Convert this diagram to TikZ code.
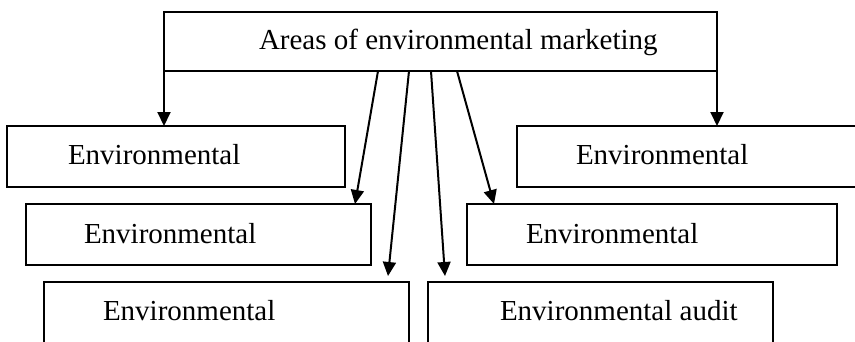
\documentclass[tikz,border=0pt]{standalone}
\usepackage{fontspec}
\setmainfont{Liberation Serif}
\usetikzlibrary{arrows.meta}
\begin{document}
\begin{tikzpicture}[x=1pt,y=-1pt,
  box/.style={draw, line width=2pt, rectangle, anchor=north west, inner sep=0pt, outer sep=0pt},
  txt/.style={anchor=base west, inner sep=0pt, outer sep=0pt, font=\fontsize{29}{34}\selectfont},
  arr/.style={line width=2pt, -{Triangle[length=14pt,width=13pt]}}]
\useasboundingbox (0,0) rectangle (855,341);
\clip (0,0) rectangle (855,341);
% boxes
\node[box, minimum width=553pt, minimum height=59pt] (top) at (164,12) {};
\node[box, minimum width=338pt, minimum height=61pt] (b1L) at (7,126) {};
\node[box, minimum width=345pt, minimum height=61pt] (b2L) at (26,204) {};
\node[box, minimum width=365pt, minimum height=98pt] (b3L) at (44,282) {};
\node[box, minimum width=363pt, minimum height=61pt] (b1R) at (517,126) {};
\node[box, minimum width=370pt, minimum height=61pt] (b2R) at (467,204) {};
\node[box, minimum width=345pt, minimum height=98pt] (b3R) at (428,282) {};
% texts
\node[txt] (ttop) at (259,49) {Areas of environmental marketing};
\node[txt] (t1L) at (68,164) {Environmental};
\node[txt] (t2L) at (84,243) {Environmental};
\node[txt] (t3L) at (103,320) {Environmental};
\node[txt] (t1R) at (576,164) {Environmental};
\node[txt] (t2R) at (526,243) {Environmental};
\node[txt] (t3R) at (500,320) {Environmental audit};
% connectors
\draw[arr] (top.south west) -- (top.south west |- b1L.north);
\draw[arr] (top.south east) -- (top.south east |- b1R.north);
\draw[arr] ([xshift=214pt]top.south west) -- ([xshift=-16pt]b2L.north east);
\draw[arr] ([xshift=245pt]top.south west) -- ([xshift=-21pt,yshift=6pt]b3L.north east);
\draw[arr] ([xshift=267pt]top.south west) -- ([xshift=17pt,yshift=6pt]b3R.north west);
\draw[arr] ([xshift=293pt]top.south west) -- ([xshift=27pt]b2R.north west);
\end{tikzpicture}
\end{document}
